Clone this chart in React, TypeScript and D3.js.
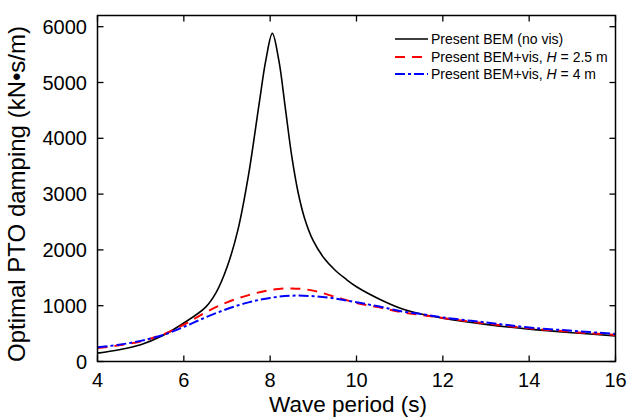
import React from "react";
import * as d3 from "d3";

const periods = [4, 4.5, 5, 5.5, 6, 6.5, 6.75, 7, 7.25, 7.5, 7.75, 7.9, 8.05, 8.2, 8.35, 8.5, 8.65, 8.8, 9, 9.25, 9.5, 9.75, 10, 10.5, 11, 11.5, 12, 13, 14, 15, 16];
const noVis = [150, 210, 300, 460, 690, 970, 1240, 1690, 2350, 3350, 4650, 5400, 5880, 5400, 4550, 3680, 3020, 2560, 2160, 1850, 1640, 1480, 1340, 1130, 960, 850, 775, 665, 580, 515, 460];

const periodsVis = [4, 4.5, 5, 5.5, 6, 6.5, 7, 7.5, 8, 8.5, 9, 9.5, 10, 10.5, 11, 11.5, 12, 13, 14, 15, 16];
const vis25 = [240, 290, 360, 480, 660, 880, 1060, 1190, 1280, 1310, 1270, 1160, 1050, 975, 890, 835, 780, 680, 595, 530, 475];
const vis4 = [255, 300, 370, 470, 620, 790, 940, 1060, 1140, 1180, 1170, 1130, 1060, 990, 905, 850, 790, 700, 610, 550, 495];

const xTicks = [4, 6, 8, 10, 12, 14, 16];
const yTicks = [0, 1000, 2000, 3000, 4000, 5000, 6000];

export default function App() {
  const left = 97.5, right = 615.5, top = 15.5, bottom = 361.5;
  const x = d3.scaleLinear().domain([4, 16]).range([left, right]);
  const y = d3.scaleLinear().domain([0, 6000]).range([bottom, 26.7]);
  const line = (xs: number[], ys: number[]) =>
    d3.line<number>().x((_, i) => x(xs[i])).y((d) => y(d)).curve(d3.curveCatmullRom.alpha(0.5))(ys) || "";
  const font = "Liberation Sans, Arial, sans-serif";
  const tl = 6;
  return (
    <svg width={628} height={419} style={{ position: "absolute", left: 0, top: 0, background: "#fff" }} fontFamily={font}>
      <defs>
        <clipPath id="clip"><rect x={left} y={top} width={right - left} height={bottom - top} /></clipPath>
      </defs>
      <g clipPath="url(#clip)">
        <path d={line(periods, noVis)} fill="none" stroke="#000" strokeWidth={1.6} />
        <path d={line(periodsVis, vis25)} fill="none" stroke="#ff0000" strokeWidth={2} strokeDasharray="10 7" />
        <path d={line(periodsVis, vis4)} fill="none" stroke="#0000ff" strokeWidth={2} strokeDasharray="10 3 3 3" />
      </g>
      <rect x={left} y={top} width={right - left} height={bottom - top} fill="none" stroke="#000" strokeWidth={1.5} />
      {xTicks.map((t) => (
        <g key={"x" + t}>
          <line x1={x(t)} x2={x(t)} y1={bottom} y2={bottom - tl} stroke="#000" strokeWidth={1.3} />
          <line x1={x(t)} x2={x(t)} y1={top} y2={top + tl} stroke="#000" strokeWidth={1.3} />
          <text x={x(t)} y={387} textAnchor="middle" fontSize={20}>{t}</text>
        </g>
      ))}
      {yTicks.map((t) => (
        <g key={"y" + t}>
          <line x1={left} x2={left + tl} y1={y(t)} y2={y(t)} stroke="#000" strokeWidth={1.3} />
          <line x1={right} x2={right - tl} y1={y(t)} y2={y(t)} stroke="#000" strokeWidth={1.3} />
          <text x={87} y={y(t) + 7} textAnchor="end" fontSize={20}>{t}</text>
        </g>
      ))}
      <text x={348} y={412} textAnchor="middle" fontSize={22.5}>Wave period (s)</text>
      <text transform={`translate(25,194) rotate(-90)`} textAnchor="middle" fontSize={24}>
        Optimal PTO damping (kN•s/m)
      </text>
      <g fontSize={14}>
        <line x1={395} x2={428} y1={39} y2={39} stroke="#000" strokeWidth={1.6} />
        <text x={431} y={44}>Present BEM (no vis)</text>
        <line x1={395} x2={428} y1={57} y2={57} stroke="#ff0000" strokeWidth={2} strokeDasharray="10 7" />
        <text x={431} y={62}>Present BEM+vis, <tspan fontStyle="italic">H</tspan> = 2.5 m</text>
        <line x1={395} x2={428} y1={74} y2={74} stroke="#0000ff" strokeWidth={2} strokeDasharray="10 3 3 3" />
        <text x={431} y={79}>Present BEM+vis, <tspan fontStyle="italic">H</tspan> = 4 m</text>
      </g>
    </svg>
  );
}
